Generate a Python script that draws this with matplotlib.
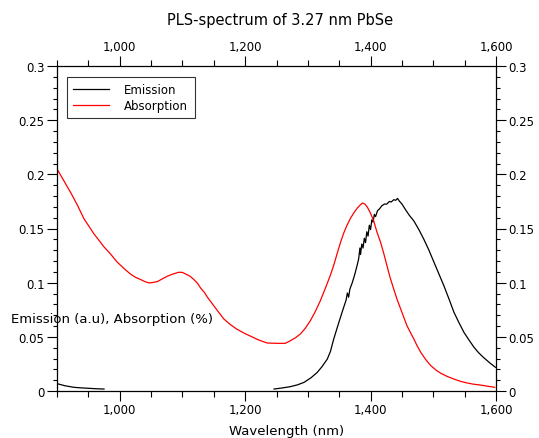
import matplotlib
matplotlib.use("Agg")
import matplotlib.pyplot as plt
from matplotlib.ticker import MultipleLocator, FuncFormatter

title = "PLS-spectrum of 3.27 nm PbSe"
xlabel = "Wavelength (nm)"
ylabel = "Emission (a.u), Absorption (%)"

abs_wl = [901, 912, 922, 933, 943, 951, 959, 967, 975, 986, 996, 1007, 1017, 1025,
          1033, 1040, 1047, 1053, 1060, 1068, 1076, 1085, 1094, 1100, 1105, 1112,
          1118, 1124, 1129, 1135, 1140, 1150, 1158, 1166, 1176, 1187, 1198, 1209,
          1222, 1235, 1250, 1264, 1272, 1280, 1288, 1296, 1304, 1312, 1320, 1328,
          1336, 1342, 1347, 1352, 1357, 1362, 1368, 1374, 1379, 1384, 1387, 1391,
          1395, 1400, 1405, 1410, 1416, 1421, 1426, 1431, 1437, 1442, 1448, 1453,
          1458, 1464, 1469, 1474, 1480, 1488, 1496, 1504, 1512, 1522, 1533, 1543,
          1554, 1564, 1575, 1587, 1598]
abs_val = [0.204, 0.193, 0.183, 0.171, 0.159, 0.152, 0.145, 0.139, 0.133, 0.126,
           0.119, 0.113, 0.108, 0.105, 0.103, 0.101, 0.0997, 0.1002, 0.101, 0.1035,
           0.106, 0.108, 0.1096, 0.1095, 0.108, 0.106, 0.103, 0.0995, 0.095, 0.091,
           0.0865, 0.0787, 0.0725, 0.0665, 0.0615, 0.057, 0.0535, 0.0505, 0.047,
           0.0443, 0.044, 0.044, 0.0464, 0.049, 0.0526, 0.058, 0.0649, 0.0735,
           0.0834, 0.095, 0.107, 0.1175, 0.1275, 0.137, 0.1455, 0.1525, 0.1595,
           0.165, 0.169, 0.172, 0.1735, 0.1725, 0.1696, 0.164, 0.157, 0.147, 0.1372,
           0.127, 0.116, 0.105, 0.094, 0.085, 0.0757, 0.068, 0.0603, 0.0535, 0.048,
           0.042, 0.0357, 0.029, 0.0234, 0.0195, 0.0163, 0.0135, 0.011, 0.009,
           0.0074, 0.0063, 0.0055, 0.0044, 0.0034]

em_wl_a = [900, 913, 927, 938, 950, 962, 975]
em_val_a = [0.0068, 0.0048, 0.0034, 0.0029, 0.0025, 0.0021, 0.0018]

em_wl_b = [1246, 1259, 1272, 1283, 1294, 1305, 1315, 1323, 1331, 1336, 1341, 1347,
           1352, 1357, 1361, 1363, 1365, 1367, 1371, 1375, 1379, 1381, 1383, 1384,
           1386, 1388, 1390, 1392, 1394, 1396, 1398, 1400, 1402, 1404, 1406, 1408,
           1411, 1414, 1418, 1422, 1426, 1430, 1433, 1437, 1440, 1443, 1446, 1450,
           1455, 1462, 1469, 1477, 1485, 1493, 1501, 1509, 1517, 1525, 1533, 1541,
           1549, 1557, 1565, 1572, 1580, 1590, 1599]
em_val_b = [0.0018, 0.0028, 0.004, 0.0056, 0.008, 0.0122, 0.0172, 0.0228, 0.0295,
            0.0365, 0.0475, 0.0588, 0.068, 0.077, 0.084, 0.0905, 0.0865, 0.094,
            0.1003, 0.108, 0.117, 0.122, 0.132, 0.126, 0.1357, 0.132, 0.141, 0.137,
            0.147, 0.143, 0.153, 0.149, 0.158, 0.156, 0.163, 0.161, 0.1664, 0.168,
            0.171, 0.1725, 0.1726, 0.175, 0.1745, 0.1766, 0.176, 0.1778, 0.1752,
            0.1726, 0.168, 0.162, 0.157, 0.149, 0.140, 0.13, 0.119, 0.108, 0.097,
            0.085, 0.0726, 0.063, 0.054, 0.047, 0.0403, 0.0355, 0.031, 0.026, 0.0219]

fig = plt.figure(figsize=(5.39, 4.39), dpi=100)
ax = fig.add_axes([57/539, 1-392/439, (496-57)/539, (392-67)/439])

ax.plot(em_wl_a, em_val_a, color="black", lw=0.9, label="Emission")
ax.plot(em_wl_b, em_val_b, color="black", lw=0.9)
ax.plot(abs_wl, abs_val, color="#ff0000", lw=0.9, label="Absorption")

ax.set_xlim(900, 1600)
ax.set_ylim(0, 0.3)

ax.xaxis.set_major_locator(MultipleLocator(200))
ax.xaxis.set_minor_locator(MultipleLocator(50))
ax.yaxis.set_major_locator(MultipleLocator(0.05))
ax.yaxis.set_minor_locator(MultipleLocator(0.01))
ax.xaxis.set_major_formatter(FuncFormatter(lambda v, p: f"{int(round(v)):,}"))
ax.yaxis.set_major_formatter(FuncFormatter(lambda v, p: f"{v:g}" if abs(v) > 1e-9 else "0"))

ax.tick_params(which="both", direction="out", top=True, right=True,
               labeltop=True, labelright=True, labelsize=8.5, width=0.8)
ax.tick_params(which="major", length=7, pad=2)
ax.tick_params(axis="x", which="minor", length=4.5)
ax.tick_params(axis="y", which="minor", length=3)
for s in ax.spines.values():
    s.set_linewidth(0.9)

fig.text(280/539, 1-20/439, title, ha="center", va="center", fontsize=10.5)
fig.text(287/539, 1-432/439, xlabel, ha="center", va="center", fontsize=9.5)
fig.text(11/539, 1-320/439, ylabel, ha="left", va="center", fontsize=9.5)

leg = ax.legend(loc="upper left", bbox_to_anchor=(10/439, 1-11/325), borderaxespad=0,
                fontsize=8.5, frameon=True, fancybox=False, handlelength=3.0,
                handletextpad=1.3, borderpad=0.55, labelspacing=0.2)
leg.get_frame().set_edgecolor("black")
leg.get_frame().set_linewidth(0.8)

fig.savefig("out.png", dpi=100)
